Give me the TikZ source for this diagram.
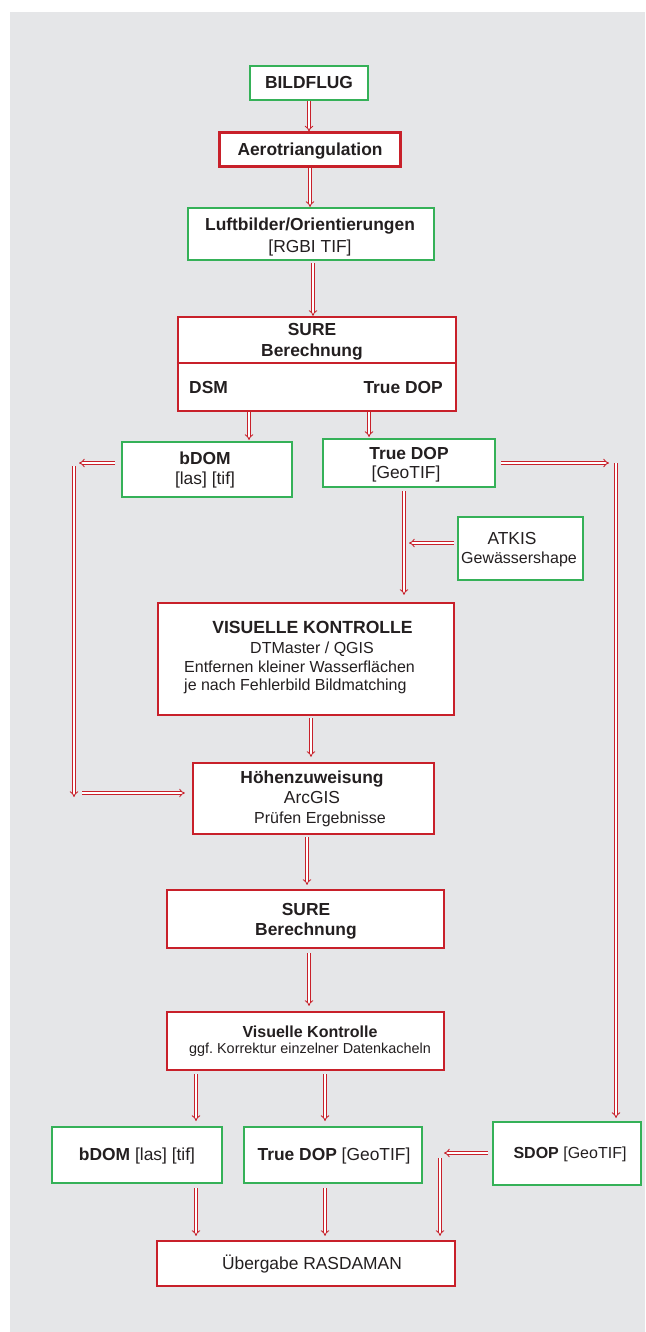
\documentclass[tikz,border=0pt]{standalone}
\usepackage{fontspec}
\setmainfont{Liberation Sans}
\usetikzlibrary{arrows.meta}
\definecolor{bgc}{HTML}{E5E6E8}
\definecolor{bred}{HTML}{C8202A}
\definecolor{bgreen}{HTML}{35B158}
\definecolor{ink}{HTML}{231F20}
\newcommand\FBig{\fontsize{17.4}{20}\selectfont}
\newcommand\FMid{\fontsize{16}{19}\selectfont}
\newcommand\FSml{\fontsize{14.4}{17}\selectfont}
\frenchspacing
\begin{document}
\begin{tikzpicture}[x=1pt,y=-1pt,
  gbox/.style={draw=bgreen, line width=2pt, fill=white, inner sep=0},
  rbox/.style={draw=bred, line width=2.2pt, fill=white, inner sep=0},
  txt/.style={inner sep=0, anchor=base, text=ink},
  dar/.style={draw=bred, line width=0.85pt, double=white, double distance=2pt, -{Implies}}]
\useasboundingbox (0,0) rectangle (645,1332);
\fill[bgc] (10,12) rectangle (645,1332);

% boxes
\node[gbox, minimum width=118pt, minimum height=34pt] (bildflug) at (309,83) {};
\node[rbox, line width=3pt, minimum width=181pt, minimum height=34pt] (aero) at (309.5,150) {};
\node[gbox, minimum width=246pt, minimum height=52pt] (luft) at (311,234) {};
\node[rbox, minimum width=278pt, minimum height=94pt] (sure) at (317,364) {};
\draw[bred, line width=2.2pt] ([yshift=1pt]sure.west) -- ([yshift=1pt]sure.east);
\node[gbox, minimum width=170pt, minimum height=55pt] (bdom) at (207,469.5) {};
\node[gbox, minimum width=172pt, minimum height=48pt] (truedop) at (409,463) {};
\node[gbox, minimum width=125pt, minimum height=63pt] (atkis) at (520.5,548.5) {};
\node[rbox, minimum width=296pt, minimum height=112pt] (visu) at (306,659) {};
\node[rbox, minimum width=241pt, minimum height=71pt] (hoehen) at (313.5,798.5) {};
\node[rbox, minimum width=277pt, minimum height=58pt] (sure2) at (305.5,919) {};
\node[rbox, minimum width=277pt, minimum height=58pt] (visu2) at (305.5,1041) {};
\node[gbox, minimum width=170pt, minimum height=56pt] (bdom2) at (137,1155) {};
\node[gbox, minimum width=178pt, minimum height=56pt] (tdop2) at (333,1155) {};
\node[gbox, minimum width=148pt, minimum height=63pt] (sdop) at (567,1153.5) {};
\node[rbox, minimum width=298pt, minimum height=45pt] (ueber) at (306,1263.5) {};

% texts
\node[txt] (t1) at (309,89) {\FBig\bfseries BILDFLUG};
\node[txt] (t2) at (310,156) {\FBig\bfseries Aerotriangulation};
\node[txt] (t3) at (310,231) {\FBig\bfseries Luftbilder/Orientierungen};
\node[txt] (t4) at (310,252) {\FBig [RGBI TIF]};
\node[txt] (t5) at (312,335) {\FBig\bfseries SURE};
\node[txt] (t6) at (312,356) {\FBig\bfseries Berechnung};
\node[txt, anchor=base west] (t7) at (189,393) {\FBig\bfseries DSM};
\node[txt, anchor=base east] (t8) at (443,393) {\FBig\bfseries True DOP};
\node[txt] (t9) at (205,464) {\FBig\bfseries bDOM};
\node[txt] (t10) at (205,484) {\FBig [las] [tif]};
\node[txt] (t11) at (409,459) {\FBig\bfseries True DOP};
\node[txt] (t12) at (406,478) {\FBig [GeoTIF]};
\node[txt] (t13) at (512,544) {\FBig ATKIS};
\node[txt] (t14) at (519,563) {\FMid Gewässershape};
\node[txt] (t15) at (312.5,633) {\fontsize{17.6}{20}\selectfont\bfseries VISUELLE KONTROLLE};
\node[txt] (t16) at (312,653) {\FMid DTMaster / QGIS};
\node[txt, anchor=base west] (t17) at (184,672) {\FMid Entfernen kleiner Wasserflächen};
\node[txt, anchor=base west] (t18) at (184,690) {\FMid je nach Fehlerbild Bildmatching};
\node[txt] (t19) at (312,783) {\FBig\bfseries Höhenzuweisung};
\node[txt] (t20) at (312,803) {\FBig ArcGIS};
\node[txt] (t21) at (320,823) {\FMid Prüfen Ergebnisse};
\node[txt] (t22) at (306,915) {\FBig\bfseries SURE};
\node[txt] (t23) at (306,935) {\FBig\bfseries Berechnung};
\node[txt] (t24) at (310,1037) {\FMid\bfseries Visuelle Kontrolle};
\node[txt] (t25) at (310,1053) {\FSml ggf. Korrektur einzelner Datenkacheln};
\node[txt] (t26) at (137,1160) {\FBig\textbf{bDOM} [las] [tif]};
\node[txt] (t27) at (334,1160) {\FBig\textbf{True DOP} [GeoTIF]};
\node[txt] (t28) at (570,1158) {\FMid\textbf{SDOP} [GeoTIF]};
\node[txt] (t29) at (312,1269) {\FBig Übergabe RASDAMAN};

% free coordinates
\coordinate (bdomL) at (79,463);
\coordinate (lt) at (74,466);
\coordinate (lb) at (74,797);
\coordinate (lh) at (82,793);
\coordinate (rt) at (609,463);
\coordinate (rtop) at (616,463);
\coordinate (ak) at (409,543);
\coordinate (sdL) at (444,1153);
\coordinate (vt) at (440,1158);

% connectors
\draw[dar] (bildflug.south) -- (bildflug.south |- aero.north);
\draw[dar] ([xshift=0.5pt]aero.south) -- ([xshift=0.5pt]aero.south |- luft.north);
\draw[dar, shorten <=2pt] ([xshift=2pt]luft.south) -- ([xshift=2pt]luft.south |- sure.north);
\draw[dar, shorten >=1pt] ([xshift=-68pt]sure.south) -- ([xshift=-68pt]sure.south |- bdom.north);
\draw[dar, shorten >=1pt] ([xshift=52pt]sure.south) -- ([xshift=52pt]sure.south |- truedop.north);
\draw[dar] ([xshift=-6pt,yshift=6.5pt]bdom.west) -- (bdomL);
\draw[dar] (lt) -- (lb);
\draw[dar] (lh) -- ([xshift=-7pt,yshift=5.5pt]hoehen.west);
\draw[dar] ([xshift=5pt]truedop.east) -- (rt);
\draw[dar, shorten >=3pt] (rtop) -- (rtop |- sdop.north);
\draw[dar, shorten <=3pt, shorten >=7pt] ([xshift=-5pt]truedop.south) -- ([xshift=-5pt]truedop.south |- visu.north);
\draw[dar] ([xshift=-3pt,yshift=5.5pt]atkis.west) -- (ak);
\draw[dar, shorten <=2pt, shorten >=5pt] ([xshift=5pt]visu.south) -- ([xshift=5pt]visu.south |- hoehen.north);
\draw[dar, shorten <=2pt, shorten >=4pt] ([xshift=-6.5pt]hoehen.south) -- ([xshift=-6.5pt]hoehen.south |- sure2.north);
\draw[dar, shorten <=4pt, shorten >=5pt] ([xshift=3.5pt]sure2.south) -- ([xshift=3.5pt]sure2.south |- visu2.north);
\draw[dar, shorten <=3pt, shorten >=5pt] ([xshift=-109.5pt]visu2.south) -- ([xshift=-109.5pt]visu2.south |- bdom2.north);
\draw[dar, shorten <=3pt, shorten >=5pt] ([xshift=19.5pt]visu2.south) -- ([xshift=19.5pt]visu2.south |- tdop2.north);
\draw[dar] ([xshift=-4pt,yshift=0.5pt]sdop.west) -- (sdL);
\draw[dar, shorten >=4pt] (vt) -- (vt |- ueber.north);
\draw[dar, shorten <=4pt, shorten >=4pt] ([xshift=59pt]bdom2.south) -- ([xshift=59pt]bdom2.south |- ueber.north);
\draw[dar, shorten <=4pt, shorten >=4pt] ([xshift=-8pt]tdop2.south) -- ([xshift=-8pt]tdop2.south |- ueber.north);
\end{tikzpicture}
\end{document}
